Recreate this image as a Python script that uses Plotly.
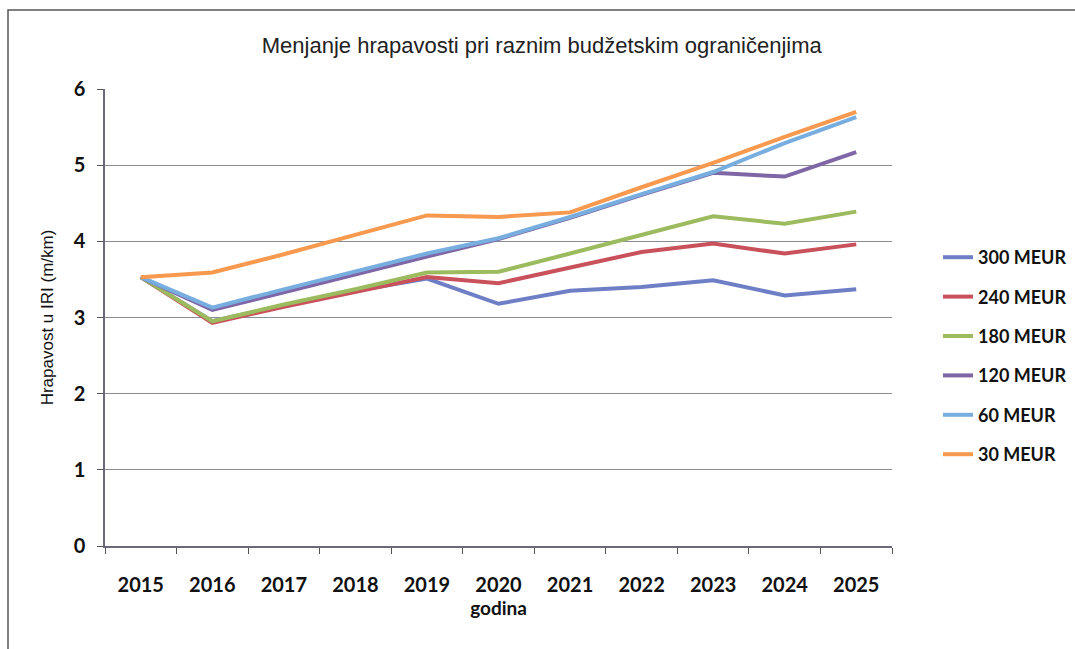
import plotly.graph_objects as go

years = ["2015", "2016", "2017", "2018", "2019", "2020", "2021", "2022", "2023", "2024", "2025"]
series_names = ["300 MEUR", "240 MEUR", "180 MEUR", "120 MEUR", "60 MEUR", "30 MEUR"]
v300 = [3.53, 2.95, 3.16, 3.35, 3.51, 3.18, 3.35, 3.40, 3.49, 3.29, 3.37]
v240 = [3.53, 2.93, 3.14, 3.33, 3.53, 3.45, 3.66, 3.86, 3.97, 3.84, 3.96]
v180 = [3.53, 2.95, 3.17, 3.37, 3.59, 3.60, 3.84, 4.09, 4.33, 4.23, 4.39]
v120 = [3.53, 3.10, 3.33, 3.57, 3.80, 4.03, 4.31, 4.61, 4.90, 4.85, 5.17]
v60 = [3.53, 3.13, 3.37, 3.61, 3.84, 4.04, 4.32, 4.62, 4.91, 5.29, 5.63]
v30 = [3.53, 3.59, 3.83, 4.08, 4.34, 4.32, 4.38, 4.71, 5.03, 5.37, 5.70]
values = [v300, v240, v180, v120, v60, v30]
colors = ["#6f7fc6", "#c9515b", "#9cba5e", "#7f66a6", "#78aedf", "#f7994f"]
y_ticks = [0, 1, 2, 3, 4, 5, 6]

L, R, T, B = 105, 892, 89, 546
W, H = 1075, 649
pw, ph = R - L, B - T

fig = go.Figure()
for name, vals, col in zip(series_names, values, colors):
    fig.add_trace(go.Scatter(
        x=years, y=vals, name=name, mode="lines",
        line=dict(color=col, width=4), legendgroup=name,
    ))

fig.update_layout(
    width=W, height=H,
    margin=dict(l=L, r=W - R, t=T, b=H - B, autoexpand=False),
    paper_bgcolor="white", plot_bgcolor="white",
    title=dict(text="Menjanje hrapavosti pri raznim budžetskim ograničenjima",
               x=0.504, xanchor="center", y=1 - 45 / H, yanchor="middle",
               font=dict(family="Liberation Sans", size=22, color="#222")),
    legend=dict(x=(938 - L) / pw, xanchor="left", y=(B - 356) / ph, yanchor="middle",
                font=dict(family="Lato", size=18, color="#111", weight="bold"),
                tracegroupgap=13, bgcolor="rgba(0,0,0,0)"),
    showlegend=True,
)
fig.update_xaxes(
    type="category", tickson="boundaries", ticks="outside", ticklen=6,
    tickcolor="#555", showline=True, linecolor="#6a6a7a", linewidth=1.5,
    showgrid=False, range=[-0.5, 10.5], ticklabelstandoff=20,
    tickfont=dict(family="Lato", size=20, color="#111", weight="bold"),
    title=dict(text="godina", font=dict(family="Lato", size=19, color="#111", weight="bold"),
               standoff=6),
)
fig.update_yaxes(
    range=[0, 6], tickvals=y_ticks, ticks="outside", ticklen=6, tickcolor="#555",
    showline=True, linecolor="#6a6a7a", linewidth=1.5, ticklabelstandoff=8,
    showgrid=True, gridcolor="#8c8c96", gridwidth=1, zeroline=False,
    tickfont=dict(family="Lato", size=20, color="#111", weight="bold"),
    title=dict(text="Hrapavost u IRI (m/km)",
               font=dict(family="Liberation Sans", size=17, color="#111"), standoff=16),
)
# outer chart frame (scanned border)
fig.add_shape(type="rect", xref="paper", yref="paper",
              x0=(8 - L) / pw, x1=(1080 - L) / pw,
              y0=(B - 660) / ph, y1=(B - 10) / ph,
              line=dict(color="#555", width=1.5), fillcolor="rgba(0,0,0,0)", layer="below")

fig.write_html("out.html", config={"displayModeBar": False},
               post_script="document.body.style.margin='0';")
